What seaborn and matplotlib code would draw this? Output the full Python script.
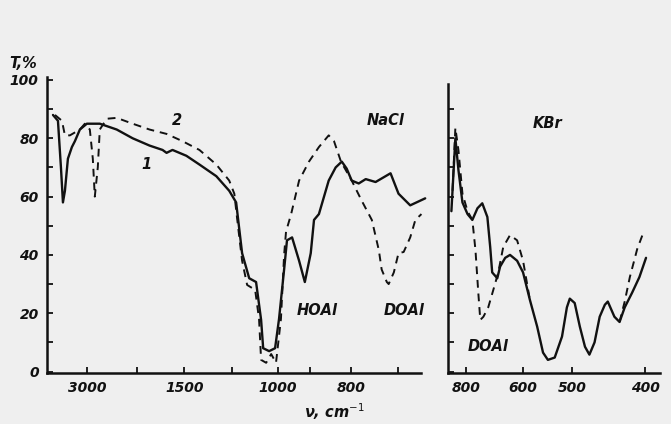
import numpy as np
import pandas as pd
import matplotlib
matplotlib.use('Agg')
import matplotlib.pyplot as plt
import seaborn as sns

# Spectrum 1 (solid) and 2 (dashed), NaCl window: wavenumber (cm-1), T (%)
nacl_1_wn = [3680, 3580, 3520, 3480, 3440, 3380, 3300, 3240, 3140, 3000, 2740, 2400,
             2080, 1865, 1729, 1687, 1625, 1488, 1406, 1300, 1219, 1183, 1157, 1126,
             1096, 1074, 1065, 1039, 1013, 997, 981, 972, 956, 934, 916, 898, 890,
             878, 854, 837, 822, 810, 798, 783, 768, 747, 715, 698, 673, 641]
nacl_1_t = [88, 86, 70, 58, 62, 73, 77, 79, 83, 85, 85, 83,
            80, 77.5, 76, 75, 76, 74, 71, 67, 62, 58, 40.6, 32,
            30.7, 17.7, 8, 7, 8, 18, 35, 45, 46, 38, 30.7, 40.6, 52,
            54, 65.5, 70, 72, 69.6, 65.5, 64.5, 66, 65, 68, 61, 57, 59.4]

nacl_2_wn = [3640, 3500, 3440, 3340, 3140, 3040, 2940, 2880, 2840, 2780, 2740, 2600,
             2400, 2080, 1865, 1687, 1520, 1406, 1300, 1219, 1191, 1178, 1157, 1135,
             1100, 1083, 1074, 1052, 1030, 1009, 991, 981, 975, 959, 934, 903, 878,
             854, 841, 824, 798, 777, 755, 740, 734, 723, 719, 708, 698, 687, 673,
             662, 649]
nacl_2_t = [88, 86, 81, 81, 83, 85, 83, 73, 60, 70, 83, 86.7,
            87, 85, 83, 81.5, 79, 76, 71, 65.5, 61, 52, 38, 29.7,
            28, 18, 4, 3, 6, 3, 18, 40, 48, 54, 65.5, 72, 77,
            81, 79, 72, 65.5, 58.7, 52, 41.6, 35, 30.7, 30, 34, 40.6, 41, 46,
            52, 54]

# KBr window
kbr_1_wn = [853, 839, 828, 814, 796, 779, 761, 744, 726, 716, 709, 691, 681, 663,
            646, 621, 600, 586, 571, 559, 549, 535, 520, 510, 504, 496, 489, 482,
            476, 469, 462, 455, 451, 442, 435, 428, 418, 408, 399]
kbr_1_t = [55, 80, 69, 58, 54, 52, 56, 57.7, 53, 42.7, 34, 32, 36, 39,
           40, 38, 34, 24.6, 15.4, 6.5, 4, 4.8, 12, 22, 25, 23.5, 15.4, 8.5,
           5.8, 10, 18.8, 22.9, 24, 18.8, 17, 22, 27, 32.4, 39]

kbr_2_wn = [849, 839, 828, 814, 796, 779, 768, 758, 751, 740, 723, 705, 688, 670,
            646, 621, 600, 586, np.nan, 435, 428, 421, 411, 403]
kbr_2_t = [62, 83.6, 75.8, 61, 55, 52, 41.6, 27, 17.7, 18.8, 22, 28, 33.8, 42.7,
           46.8, 45, 38, 24.6, np.nan, 17, 24, 32.4, 42, 47.4]

left_ticks = [3000, 2000, 1500, 1200, 1000, 900, 800, 700]
left_labels = ['3000', '', '1500', '', '1000', '', '800', '']
right_ticks = [800, 600, 500, 400]
right_labels = ['800', '600', '500', '400']

# piecewise scale of the recorder chart (chart position grows to the right)
left_scale_wn = np.array([400, 700, 800, 900, 1000, 1200, 1500, 2000, 3000, 4600])
left_scale_pos = np.array([540, 399, 352, 311, 279, 233, 185, 137, 87, 7])
right_scale_wn = np.array([300, 400, 500, 600, 800, 1000])
right_scale_pos = np.array([720, 646, 572, 523, 466, 409])


def make_scale(wn, pos):
    neg = -pos.astype(float)

    def fwd(x):
        return np.interp(x, wn, neg)

    def inv(p):
        return np.interp(p, neg, wn)
    return fwd, inv


sns.set_style('ticks')
paper = '#efefef'
plt.rcParams['font.family'] = ['DejaVu Sans']

fig = plt.figure(figsize=(6.71, 4.24), dpi=100, facecolor=paper)
ax1 = fig.add_axes([47 / 671, 51 / 424, 381 / 671, 0.698])
ax2 = fig.add_axes([448 / 671, 51 / 424, 212 / 671, 0.698])

lab = dict(style='italic', fontweight='bold', fontsize=10.5, color='#111111')

for ax, (wn_s, pos_s) in [(ax1, (left_scale_wn, left_scale_pos)),
                          (ax2, (right_scale_wn, right_scale_pos))]:
    ax.set_facecolor(paper)
    ax.set_xscale('function', functions=make_scale(wn_s, pos_s))

d1 = pd.DataFrame({'wn': nacl_1_wn, 'T': nacl_1_t})
d2 = pd.DataFrame({'wn': nacl_2_wn, 'T': nacl_2_t})
d3 = pd.DataFrame({'wn': kbr_1_wn, 'T': kbr_1_t})
d4 = pd.DataFrame({'wn': kbr_2_wn, 'T': kbr_2_t})

sns.lineplot(data=d1, x='wn', y='T', ax=ax1, sort=False, estimator=None, color='#111111', lw=1.7)
sns.lineplot(data=d2, x='wn', y='T', ax=ax1, sort=False, estimator=None, color='#111111', lw=1.4,
             linestyle=(0, (4, 3)))
ax2.plot(d3['wn'], d3['T'], color='#111111', lw=1.7)
ax2.plot(d4['wn'], d4['T'], color='#111111', lw=1.4, linestyle=(0, (4, 3)))

ax1.set_xlim(3800, 635)
ax1.set_ylim(-0.5, 101)
ax2.set_xlim(865, 380)
ax2.set_ylim(-0.5, 101)

for ax in (ax1, ax2):
    sns.despine(ax=ax)
    for s in ('left', 'bottom'):
        ax.spines[s].set_linewidth(1.8)
        ax.spines[s].set_color('#111111')
    ax.set_xlabel('')
    ax.set_ylabel('')
    ax.minorticks_off()
    ax.tick_params(direction='in', length=4, width=1.3, colors='#111111', pad=6)

ax1.spines['bottom'].set_bounds(3800, 651)
ax1.set_xticks(left_ticks)
ax1.set_xticklabels(left_labels, style='italic', fontweight='bold', fontsize=10)
ax1.set_yticks(np.arange(0, 101, 10))
ax1.set_yticklabels([str(v) if v % 20 == 0 else '' for v in range(0, 101, 10)],
                    style='italic', fontweight='bold', fontsize=10)

ax2.spines['left'].set_bounds(-0.5, 98.6)
ax2.set_xticks(right_ticks)
ax2.set_xticklabels(right_labels, style='italic', fontweight='bold', fontsize=10)
ax2.set_yticks(np.arange(0, 100, 10))
ax2.set_yticklabels([])

ax1.text(1896, 71, '1', ha='center', va='center', **lab)
ax1.text(1583, 86, '2', ha='center', va='center', **lab)
ax1.text(725, 86, 'NaCl', ha='center', va='center', **lab)
ax1.text(883, 21, 'HOAl', ha='center', va='center', **lab)
ax1.text(687, 21, 'DOAl', ha='center', va='center', **lab)
ax2.text(549, 85, 'KBr', ha='center', va='center', **lab)
ax2.text(723, 8.5, 'DOAl', ha='center', va='center', **lab)

fig.text(0.499, 0.03, 'ν, cm$^{-1}$', ha='center', va='center', **lab)
fig.text(0.035, 0.85, 'T,%', ha='center', va='center', **lab)

fig.savefig('out.png', dpi=100, facecolor=paper)
